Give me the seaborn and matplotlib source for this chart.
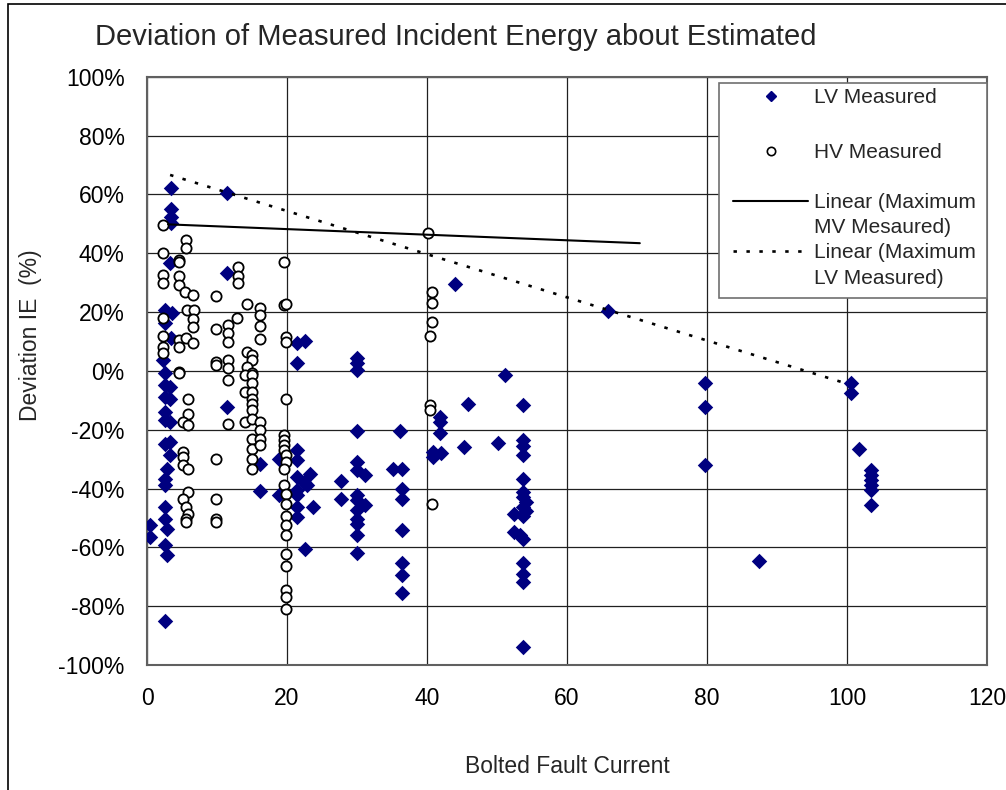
import matplotlib
matplotlib.use("Agg")
import matplotlib.pyplot as plt
import seaborn as sns
from matplotlib.patches import Rectangle
from matplotlib.lines import Line2D
from matplotlib.ticker import FuncFormatter

# ---------------- data ----------------
lv_current = [3.4, 11.4, 3.4, 3.4, 3.4, 3.3, 11.4, 2.6, 3.5, 2.6, 3.4, 2.3, 2.6, 2.6, 3.3,
              2.6, 3.3, 2.6, 3.3, 2.6, 11.4, 2.6, 3.3, 3.3, 2.8, 2.6, 2.6, 2.6, 2.6, 2.8,
              0.4, 0.4, 2.6, 2.8, 2.6,
              16.2, 16.2, 18.8, 18.8,
              21.4, 22.6, 21.4, 21.4, 21.4, 23.3, 21.4, 22.4, 22.9, 21.4, 21.4, 21.4, 21.4,
              23.7, 22.6,
              27.7, 27.7, 30.0, 30.0, 30.0, 30.0, 30.0, 30.0, 31.2, 30.0, 30.0, 31.2, 30.0,
              30.0, 30.0, 30.0, 30.0,
              36.2, 35.2, 36.4, 36.4, 36.4, 36.4, 36.4, 36.4, 36.4,
              44.0, 41.9, 41.9, 41.9, 40.8, 40.8, 42.0, 45.3, 45.9,
              50.2, 51.1, 53.7, 53.7, 53.7, 53.7, 53.7, 53.7, 53.7, 54.2, 53.7, 54.2, 53.7,
              52.4, 52.4, 53.3, 53.7, 53.7, 53.7, 53.7, 53.7,
              65.9, 79.7, 79.7, 79.7, 87.4, 100.5, 100.5, 101.7, 103.4, 103.4, 103.4, 103.4,
              103.4, 103.4]
lv_deviation = [62.0, 60.4, 55.0, 52.4, 50.2, 36.6, 33.4, 20.7, 19.6, 16.2, 11.0, 3.7, -0.9, -4.8, -5.4,
                -8.8, -9.4, -13.9, -17.3, -16.7, -12.2, -24.7, -24.1, -28.6, -33.2, -36.6, -38.8, -46.2, -50.2, -53.9,
                -52.4, -56.4, -59.3, -62.7, -85.0,
                -31.5, -40.8, -29.8, -42.2,
                9.4, 10.1, 2.6, -26.9, -30.3, -34.9, -36.0, -37.7, -38.8, -40.5, -42.2, -46.2, -49.6,
                -46.2, -60.7,
                -37.4, -43.6, 4.2, 2.6, 0.3, -20.5, -30.9, -33.7, -35.4, -42.2, -43.9, -45.6, -47.3,
                -50.2, -51.9, -55.9, -61.9,
                -20.5, -33.5, -33.5, -40.0, -43.4, -54.1, -65.4, -69.5, -75.5,
                29.4, -15.6, -17.3, -21.0, -27.5, -29.2, -27.9, -26.0, -11.1,
                -24.5, -1.4, -11.6, -23.5, -25.6, -28.6, -36.9, -41.1, -42.8, -44.5, -46.2, -47.6, -49.4,
                -48.6, -54.7, -55.9, -57.3, -65.3, -68.9, -71.7, -93.8,
                20.3, -4.3, -12.2, -32.0, -64.7, -4.0, -7.7, -26.6, -33.7, -35.4, -37.1, -38.8,
                -40.5, -45.6]

hv_current = [2.3, 2.3, 2.3, 2.3, 2.3, 2.3, 2.3, 2.3,
              4.6, 4.6, 4.6, 4.6, 4.6, 4.6, 4.6, 4.6,
              5.6, 5.6, 5.4, 5.7, 5.6, 5.8, 5.8, 5.2, 5.8, 5.2, 5.2, 5.2, 5.8, 5.8, 5.2, 5.6,
              5.8, 5.6, 5.6,
              6.6, 6.7, 6.6, 6.6, 6.6,
              9.8, 9.8, 9.9, 9.9, 9.8, 9.8, 9.8, 9.8,
              11.5, 11.5, 11.5, 11.5, 11.5, 11.5, 11.5,
              13.0, 13.0, 13.0, 12.9,
              14.3, 14.3, 15.0, 15.0, 14.3, 15.0, 14.0, 15.0, 15.0, 14.0, 15.0, 15.0, 15.0,
              15.0, 14.0, 15.0, 15.0, 15.0, 15.0, 15.0,
              16.1, 16.1, 16.1, 16.1, 16.1, 16.1, 16.1, 16.1,
              19.5, 19.5, 19.8, 19.8, 19.8, 19.9, 19.5, 19.5, 19.5, 19.6, 19.8, 19.8, 19.5,
              19.5, 19.8, 19.8, 19.8, 19.8, 19.8, 19.8, 19.8, 19.8, 19.8, 19.8,
              40.2, 40.7, 40.7, 40.7, 40.4, 40.4, 40.4, 40.7]
hv_deviation = [49.6, 40.0, 32.6, 29.8, 17.9, 11.8, 8.2, 6.0,
                37.7, 37.0, 32.2, 29.2, 10.5, 8.2, -0.3, -0.6,
                44.5, 41.7, 26.9, 20.7, 11.0, -9.4, -14.5, -17.3, -18.4, -27.5, -29.4, -32.0, -33.5, -41.1, -43.7, -46.4,
                -48.5, -50.2, -51.3,
                25.8, 20.7, 17.5, 15.0, 9.4,
                25.4, 14.1, 3.1, 2.0, -29.8, -43.4, -50.5, -51.3,
                15.6, 12.8, 9.9, 3.7, 0.9, -3.1, -18.1,
                35.2, 32.2, 29.8, 18.1,
                22.7, 6.5, 5.4, 3.7, 1.4, -0.9, -1.4, -1.4, -4.3, -7.1, -7.1, -9.4, -11.1,
                -13.3, -17.3, -16.2, -23.0, -26.4, -29.8, -33.2,
                21.3, 19.0, 15.2, 10.7, -17.3, -20.1, -23.0, -25.2,
                37.1, 22.4, 22.6, 11.6, 9.9, -9.4, -21.8, -23.5, -25.2, -26.9, -28.6, -30.9, -33.2,
                -38.8, -41.7, -45.1, -49.4, -52.4, -55.9, -62.1, -66.4, -74.6, -76.8, -80.8,
                46.8, 26.9, 23.0, 16.7, 11.8, -11.6, -13.3, -45.3]

mv_trend_current = [3.0, 70.4]
mv_trend_deviation = [49.8, 43.4]
lv_trend_current = [3.3, 99.5]
lv_trend_deviation = [66.6, -4.0]

x_ticks = [0, 20, 40, 60, 80, 100, 120]
y_ticks = [-100, -80, -60, -40, -20, 0, 20, 40, 60, 80, 100]

title = "Deviation of Measured Incident Energy about Estimated"
x_label = "Bolted Fault Current"
y_label = "Deviation IE  (%)"
legend_labels = ["LV Measured", "HV Measured", "Linear (Maximum", "MV Mesaured)",
                 "Linear (Maximum", "LV Measured)"]

# ---------------- figure ----------------
sns.set_style("white")
plt.rcParams["font.family"] = ["Liberation Sans", "DejaVu Sans"]

W, H = 1006, 790
fig = plt.figure(figsize=(W / 100, H / 100), dpi=100)
fig.patch.set_facecolor("white")
ax_l, ax_r, ax_t, ax_b = 147, 987, 76.7, 665
ax = fig.add_axes([ax_l / W, 1 - ax_b / H, (ax_r - ax_l) / W, (ax_b - ax_t) / H])

navy = "#000080"
dot_style = (0, (1.3, 3.6))
sns.scatterplot(x=lv_current, y=lv_deviation, marker="D", s=62, color=navy,
                edgecolor=navy, linewidth=0, ax=ax, zorder=3)
sns.scatterplot(x=hv_current, y=hv_deviation, marker="o", s=54, color="white",
                edgecolor="black", linewidth=1.3, ax=ax, zorder=3)
sns.lineplot(x=mv_trend_current, y=mv_trend_deviation, color="black", lw=1.5,
             estimator=None, sort=False, ax=ax, zorder=4)
sns.lineplot(x=lv_trend_current, y=lv_trend_deviation, color="black", lw=1.9,
             linestyle=dot_style, estimator=None, sort=False, ax=ax, zorder=4)

ax.set_xlim(0, 120)
ax.set_ylim(-100, 100)
ax.set_xticks(x_ticks)
ax.set_yticks(y_ticks)
ax.yaxis.set_major_formatter(FuncFormatter(lambda v, p: f"{v:.0f}%"))
ax.grid(True, color="#202020", lw=0.9)
ax.set_axisbelow(True)
for s in ax.spines.values():
    s.set_color("#606060")
    s.set_linewidth(1.5)
ax.tick_params(axis="both", direction="out", length=6, width=1, color="#404040",
               labelsize=16.5, labelcolor="black")
ax.tick_params(axis="x", pad=10)
ax.tick_params(axis="y", pad=10)

# labels and title
fig.text(456 / W, 1 - 37 / H, title, fontsize=21, ha="center", va="center")
ax.set_xlabel(x_label, fontsize=16.5)
ax.xaxis.set_label_coords(0.5, (ax_b - 755) / (ax_b - ax_t))
ax.set_ylabel(y_label, fontsize=16.5)
ax.yaxis.set_label_coords((42 - ax_l) / (ax_r - ax_l), (ax_b - 335) / (ax_b - ax_t))

# legend
frame = Rectangle((719 / W, 1 - 298 / H), (987 - 719) / W, (298 - 83) / H,
                  transform=fig.transFigure, facecolor="white", edgecolor="#707070",
                  lw=1.2, zorder=6, clip_on=False)
ax.add_patch(frame)
hA = [Line2D([], [], marker="D", ls="none", color=navy, markersize=5.5),
      Line2D([], [], marker="o", ls="none", markerfacecolor="white",
             markeredgecolor="black", markeredgewidth=1.2, markersize=6)]
legA = ax.legend(hA, legend_labels[:2], loc="upper left",
                 bbox_to_anchor=(733 / W, 1 - 88 / H), bbox_transform=fig.transFigure,
                 frameon=False, fontsize=15, handlelength=3.6, handletextpad=0.3,
                 labelspacing=1.75, borderpad=0, borderaxespad=0)
legA.set_zorder(7)
ax.add_artist(legA)
hB = [Line2D([], [], color="black", lw=1.5),
      Line2D([], [], color="none"),
      Line2D([], [], color="black", lw=1.9, linestyle=dot_style),
      Line2D([], [], color="none")]
legB = ax.legend(hB, legend_labels[2:], loc="upper left",
                 bbox_to_anchor=(733 / W, 1 - 193 / H), bbox_transform=fig.transFigure,
                 frameon=False, fontsize=15, handlelength=3.6, handletextpad=0.3,
                 labelspacing=0.3, borderpad=0, borderaxespad=0)
legB.set_zorder(7)

# outer chart border
fig.add_artist(Rectangle((8 / W, -0.05), 1.1, 1 - 4 / H + 0.05, transform=fig.transFigure,
                         facecolor="none", edgecolor="black", lw=1.2, clip_on=False))

fig.savefig("out.png", dpi=100)
